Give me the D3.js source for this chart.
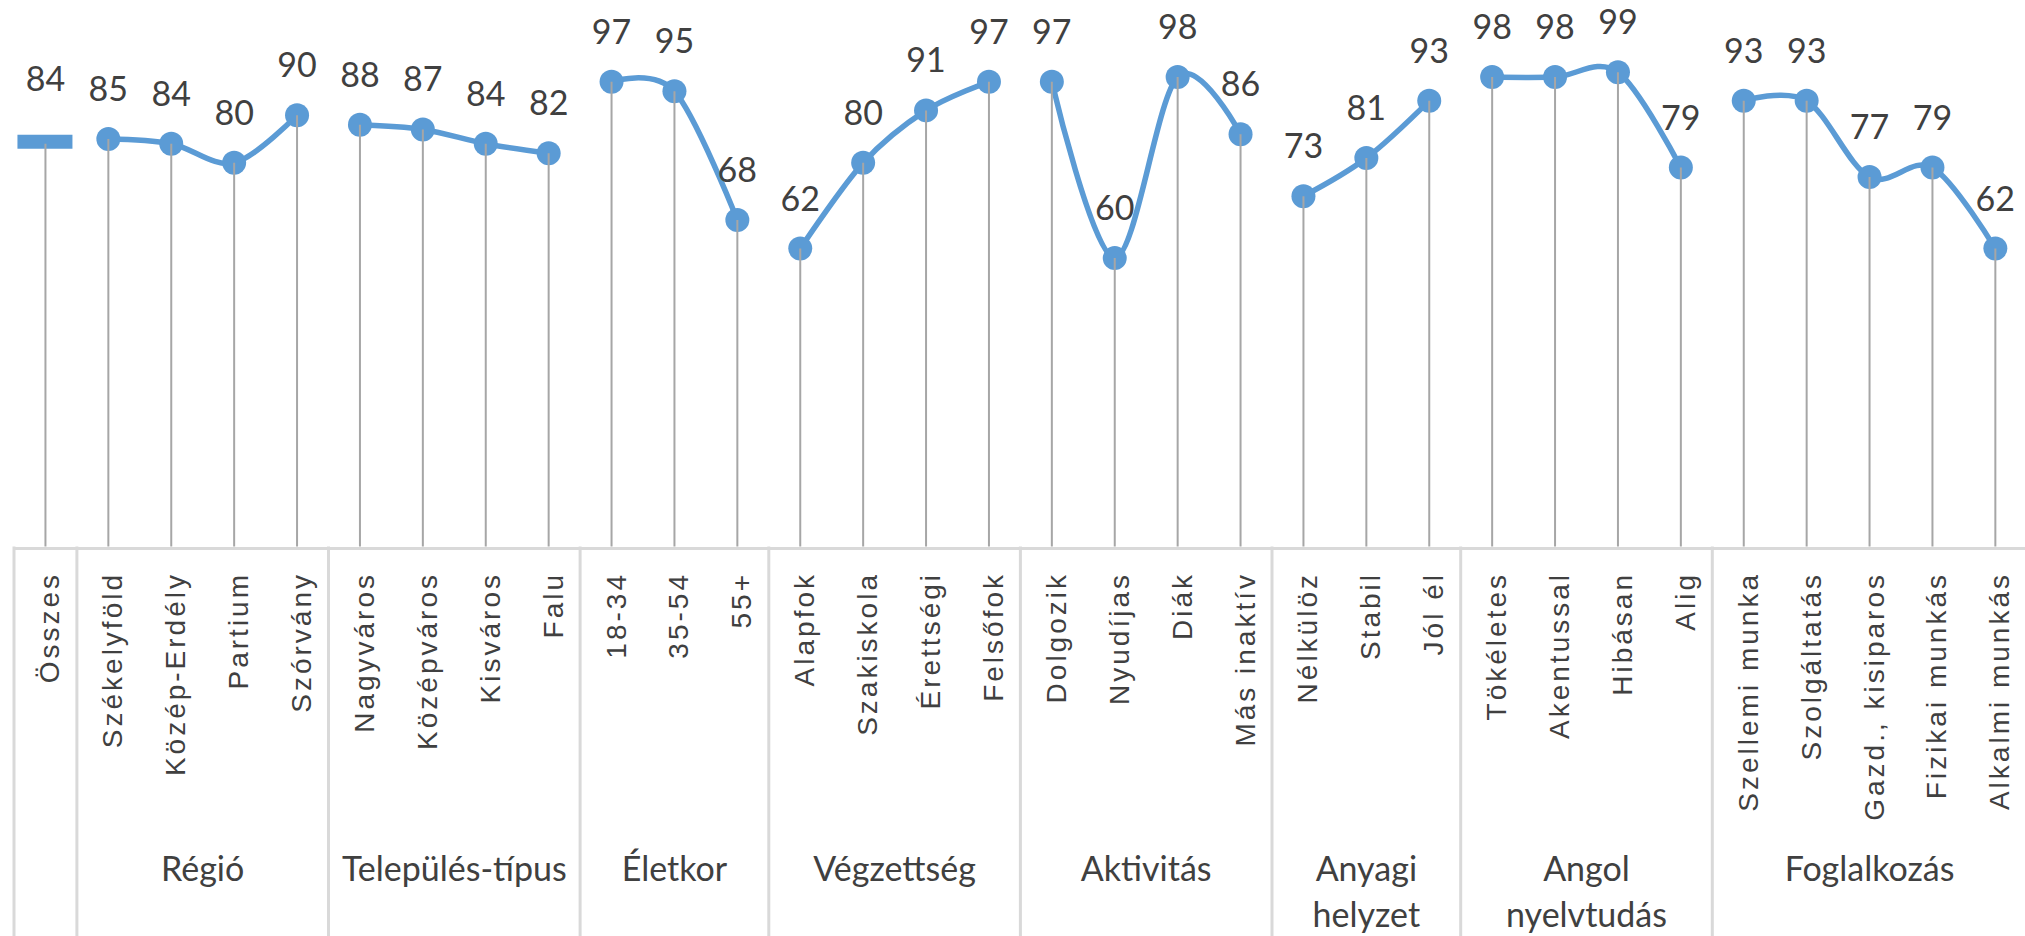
<!DOCTYPE html>
<html>
<head>
<meta charset="utf-8">
<script src="https://cdn.jsdelivr.net/npm/d3@7"></script>
<style>
    body { margin: 0; background: #fff; }
    svg { display: block; font-family: Lato, "Open Sans", sans-serif; }
    .point-label { font-size: 34px; fill: #404040; text-anchor: middle; }
    .cat-axis text { font-size: 28px; fill: #404040; letter-spacing: 3px; }
    .group-label { font-size: 34px; fill: #404040; text-anchor: middle; }
</style>
</head>
<body>
<div id="chart"></div>
<script>
const osszesCats = ["Összes"];
const osszesValues = [84];
const regioCats = ["Székelyföld", "Közép-Erdély", "Partium", "Szórvány"];
const regioValues = [85, 84, 80, 90];
const telepulesCats = ["Nagyváros", "Középváros", "Kisváros", "Falu"];
const telepulesValues = [88, 87, 84, 82];
const eletkorCats = ["18-34", "35-54", "55+"];
const eletkorValues = [97, 95, 68];
const vegzettsegCats = ["Alapfok", "Szakiskola", "Érettségi", "Felsőfok"];
const vegzettsegValues = [62, 80, 91, 97];
const aktivitasCats = ["Dolgozik", "Nyudíjas", "Diák", "Más inaktív"];
const aktivitasValues = [97, 60, 98, 86];
const anyagiCats = ["Nélkülöz", "Stabil", "Jól él"];
const anyagiValues = [73, 81, 93];
const angolCats = ["Tökéletes", "Akentussal", "Hibásan", "Alig"];
const angolValues = [98, 98, 99, 79];
const foglalkozasCats = ["Szellemi munka", "Szolgáltatás", "Gazd., kisiparos", "Fizikai munkás", "Alkalmi munkás"];
const foglalkozasValues = [93, 93, 77, 79, 62];

const groupNames = [[""], ["Régió"], ["Település-típus"], ["Életkor"], ["Végzettség"],
    ["Aktivitás"], ["Anyagi", "helyzet"], ["Angol", "nyelvtudás"], ["Foglalkozás"]];
const groupCats = [osszesCats, regioCats, telepulesCats, eletkorCats, vegzettsegCats,
    aktivitasCats, anyagiCats, angolCats, foglalkozasCats];
const groupValues = [osszesValues, regioValues, telepulesValues, eletkorValues, vegzettsegValues,
    aktivitasValues, anyagiValues, angolValues, foglalkozasValues];

const width = 2025;
const height = 936;
const left = 14;
const bandW = 62.9;
const axisY = 548;
const blue = '#5b9bd5';

const groups = groupNames.map((name, g) => ({
    name: name,
    points: groupCats[g].map((c, i) => ({ key: g + '|' + c, cat: c, value: groupValues[g][i] }))
}));
const allPoints = groups.flatMap(g => g.points);

const xScale = d3.scaleBand()
    .domain(allPoints.map(d => d.key))
    .range([left, left + bandW * allPoints.length]);

const yScale = d3.scaleLinear()
    .domain([0, 100])
    .range([544, 67.5]);

const cx = d => xScale(d.key) + xScale.bandwidth() / 2;
const groupMid = g => (xScale(g.points[0].key) + xScale(g.points[g.points.length - 1].key) + xScale.bandwidth()) / 2;

const svg = d3.select('#chart')
    .append('svg')
    .attr('width', width)
    .attr('height', height);

// category axis
const axis = svg.append('g')
    .attr('class', 'cat-axis')
    .attr('transform', 'translate(0,' + axisY + ')')
    .call(d3.axisBottom(xScale).tickSize(0).tickSizeOuter(0).tickFormat(k => k.split('|')[1]));

axis.select('.domain')
    .attr('stroke', '#d9d9d9')
    .attr('stroke-width', 3);

axis.selectAll('.tick text')
    .attr('transform', 'rotate(-90)')
    .attr('text-anchor', 'end')
    .attr('x', -24)
    .attr('y', 14)
    .attr('dy', 0);

// group separators
svg.selectAll('line.sep')
    .data(groups)
    .enter()
    .append('line')
    .attr('class', 'sep')
    .attr('x1', g => xScale(g.points[0].key))
    .attr('x2', g => xScale(g.points[0].key))
    .attr('y1', axisY - 1.5)
    .attr('y2', height)
    .attr('stroke', '#d9d9d9')
    .attr('stroke-width', 3);

// group labels
svg.selectAll('text.group-label')
    .data(groups)
    .enter()
    .append('text')
    .attr('class', 'group-label')
    .attr('x', groupMid)
    .attr('y', 881)
    .selectAll('tspan')
    .data(g => g.name.map(n => ({ n: n, x: groupMid(g) })))
    .enter()
    .append('tspan')
    .attr('x', d => d.x)
    .attr('dy', (d, i) => i === 0 ? 0 : 46)
    .text(d => d.n);

// smoothed lines per group
const line = d3.line()
    .x(cx)
    .y(d => yScale(d.value))
    .curve(d3.curveCardinal.tension(0));

svg.selectAll('path.series')
    .data(groups.filter(g => g.points.length > 1))
    .enter()
    .append('path')
    .attr('class', 'series')
    .attr('d', g => line(g.points))
    .attr('fill', 'none')
    .attr('stroke', blue)
    .attr('stroke-width', 5.5)
    .attr('stroke-linejoin', 'round');

// markers
const single = allPoints.filter(d => groups.find(g => g.points.includes(d)).points.length === 1);
const multi = allPoints.filter(d => !single.includes(d));

svg.selectAll('circle.marker')
    .data(multi)
    .enter()
    .append('circle')
    .attr('class', 'marker')
    .attr('cx', cx)
    .attr('cy', d => yScale(d.value))
    .attr('r', 12)
    .attr('fill', blue);

svg.selectAll('rect.marker')
    .data(single)
    .enter()
    .append('rect')
    .attr('class', 'marker')
    .attr('x', d => cx(d) - 28)
    .attr('y', d => yScale(d.value) - 9)
    .attr('width', 55)
    .attr('height', 14)
    .attr('fill', blue);

// drop lines
svg.selectAll('line.drop')
    .data(allPoints)
    .enter()
    .append('line')
    .attr('class', 'drop')
    .attr('x1', cx)
    .attr('x2', cx)
    .attr('y1', d => yScale(d.value))
    .attr('y2', axisY - 1.5)
    .attr('stroke', '#a6a6a6')
    .attr('stroke-width', 2);

// value labels
svg.selectAll('text.point-label')
    .data(allPoints)
    .enter()
    .append('text')
    .attr('class', 'point-label')
    .attr('x', cx)
    .attr('y', d => yScale(d.value) - (single.includes(d) ? 53 : 38))
    .text(d => d.value);
</script>
</body>
</html>
